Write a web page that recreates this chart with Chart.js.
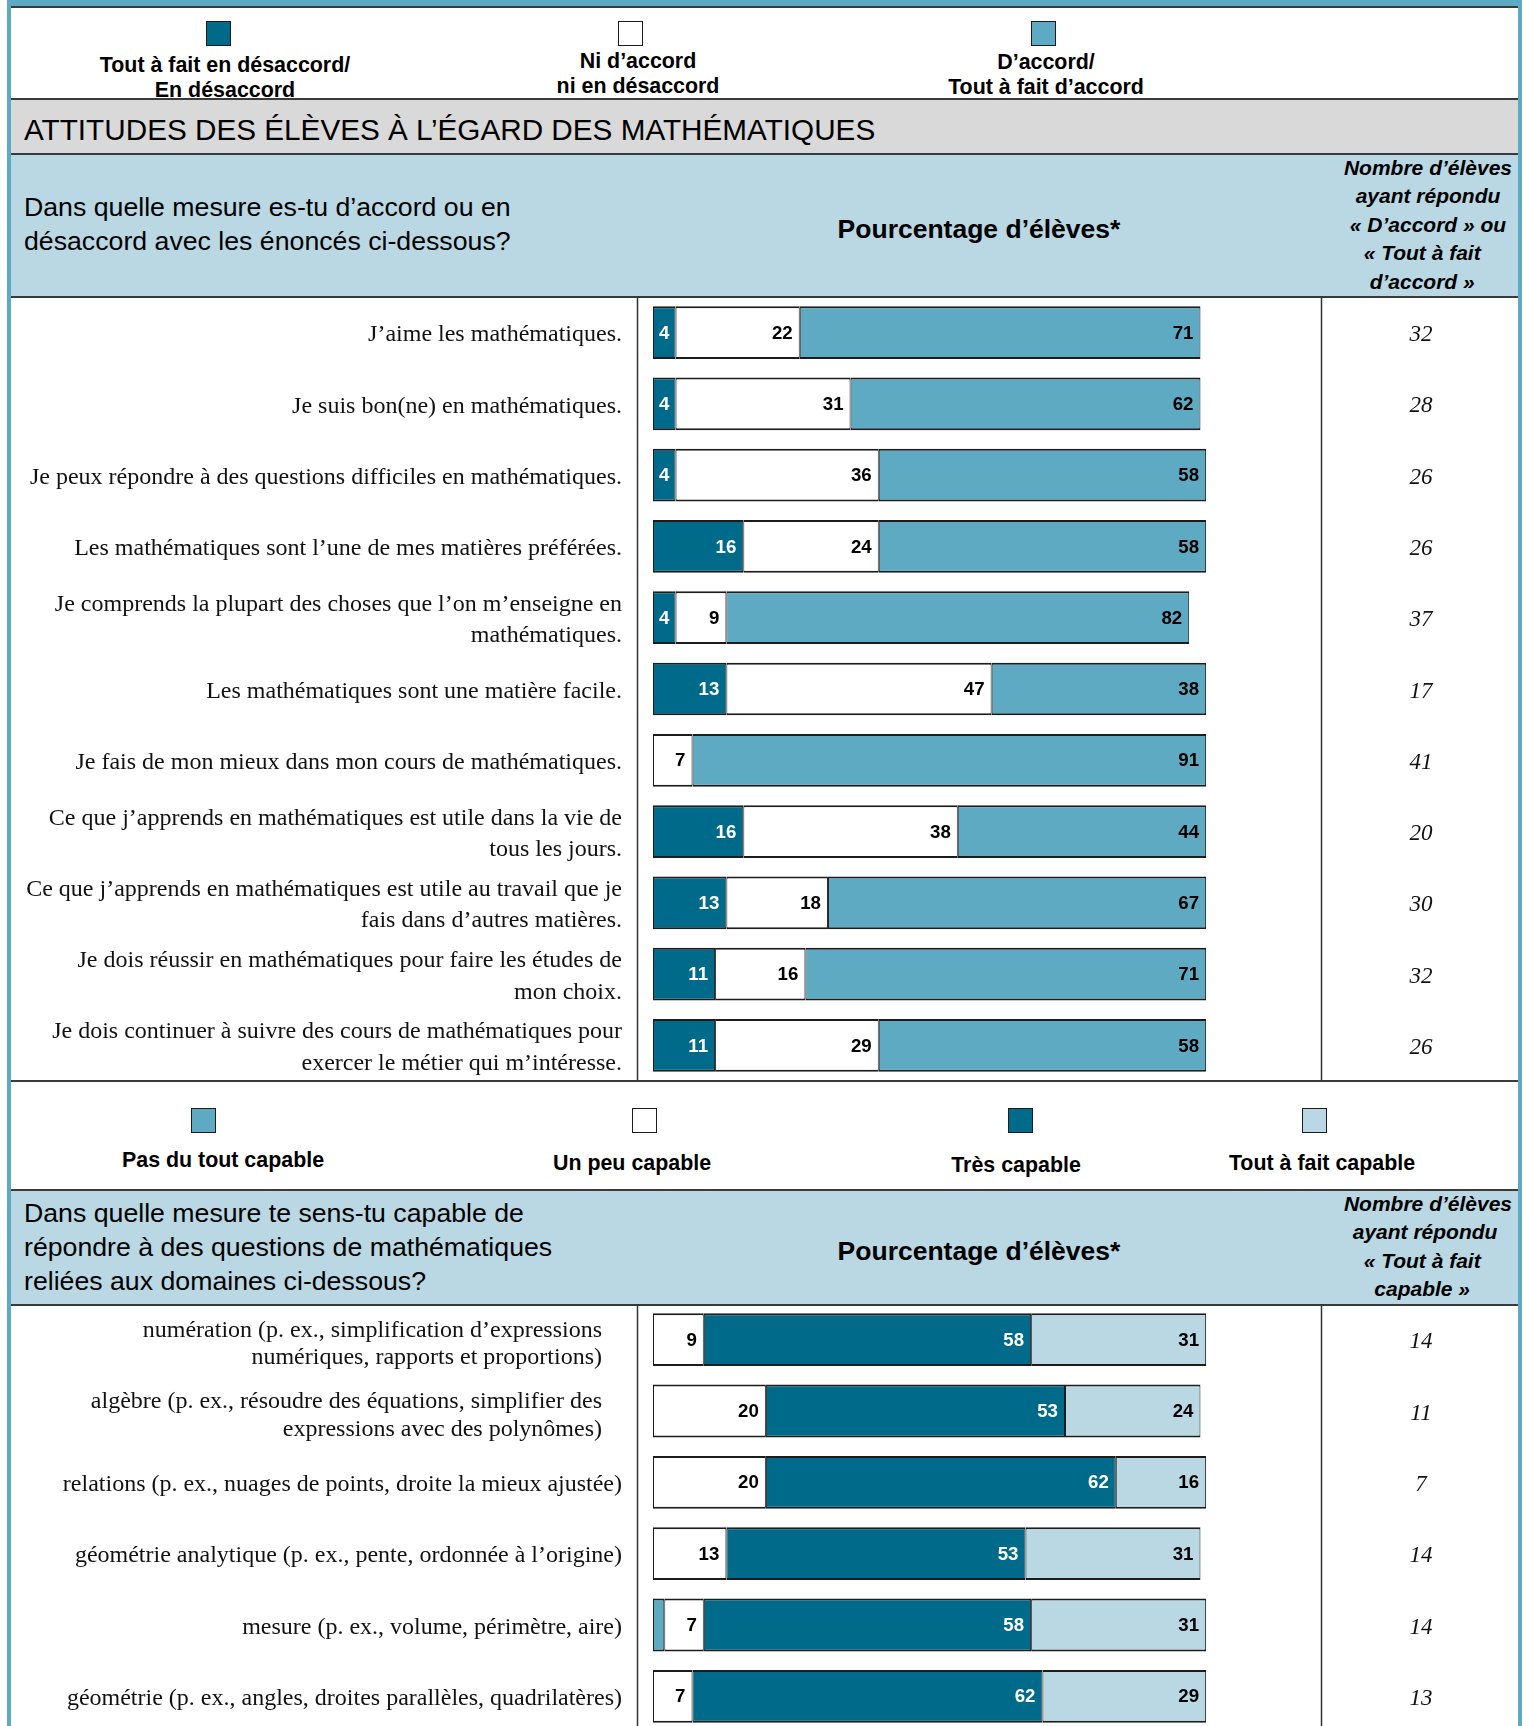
<!DOCTYPE html>
<html lang="fr">
<head>
<meta charset="utf-8">
<title>Attitudes des élèves à l’égard des mathématiques</title>
<script src="https://cdn.jsdelivr.net/npm/chart.js@4.4.1/dist/chart.umd.min.js"></script>
<style>
  html, body { margin: 0; padding: 0; background: #fff; }
  body {
    width: 1528px; height: 1726px; position: relative; overflow: hidden;
    font-family: "Liberation Sans", Arial, sans-serif; color: #000;
  }
  .abs { position: absolute; white-space: nowrap; }
  .rule { position: absolute; left: 11px; width: 1507px; height: 2px; background: #3a3a3a; }
  .band { position: absolute; left: 11px; width: 1507px; }
  .frame-side { position: absolute; top: 0; width: 4px; height: 1726px; background: #5eaac4; }
  .swatch { position: absolute; width: 23px; height: 23px; border: 1.5px solid #1c1c1c; }
  .legend-text { position: absolute; width: 400px; text-align: center; font-weight: bold; font-size: 21.4px; line-height: 25px; }
  .question { left: 24px; font-size: 26.7px; line-height: 34px; }
  .pct-head { width: 400px; text-align: center; font-weight: bold; font-size: 26.5px; line-height: 34px; }
  .count-head { width: 220px; text-align: center; font-weight: bold; font-style: italic; font-size: 21px; line-height: 28.4px; }
  canvas { position: absolute; left: 0; }
</style>
</head>
<body>
  <!-- page frame -->
  <div class="band" style="left:7px; width:1515px; top:0; height:6px; background:#5eaac4;"></div>
  <div class="rule" style="top:6px;"></div>
  <div class="frame-side" style="left:7px;"></div>
  <div class="frame-side" style="left:1518px;"></div>

  <!-- legend, section 1 -->
  <div id="legend-attitudes"></div>

  <!-- title band -->
  <div class="rule" style="top:98px;"></div>
  <div class="band" style="top:100px; height:54px; background:#d9d9d9;"></div>
  <div class="abs" style="left:24px; top:110px; font-size:29.7px; line-height:40px;">ATTITUDES DES ÉLÈVES À L’ÉGARD DES MATHÉMATIQUES</div>
  <div class="rule" style="top:153px;"></div>

  <!-- header, section 1 -->
  <div class="band" style="top:155px; height:141px; background:#b9d8e3;"></div>
  <div class="abs question" style="top:190px;">Dans quelle mesure es-tu d’accord ou en<br>désaccord avec les énoncés ci-dessous?</div>
  <div class="abs pct-head" style="left:779px; top:212px;">Pourcentage d’élèves*</div>
  <div class="abs count-head" style="left:1318px; top:154px;">Nombre d’élèves<br>ayant répondu<br>«&nbsp;D’accord&nbsp;» ou<br>«&nbsp;Tout à fait&nbsp;&nbsp;<br>d’accord&nbsp;»&nbsp;&nbsp;</div>
  <div class="rule" style="top:296px;"></div>

  <canvas id="attitudes" width="1528" height="784" style="top:297px;"></canvas>

  <div class="rule" style="top:1080px;"></div>

  <!-- legend, section 2 -->
  <div id="legend-capability"></div>

  <!-- header, section 2 -->
  <div class="rule" style="top:1189px;"></div>
  <div class="band" style="top:1191px; height:113px; background:#b9d8e3;"></div>
  <div class="abs question" style="top:1196px;">Dans quelle mesure te sens-tu capable de<br>répondre à des questions de mathématiques<br>reliées aux domaines ci-dessous?</div>
  <div class="abs pct-head" style="left:779px; top:1234px;">Pourcentage d’élèves*</div>
  <div class="abs count-head" style="left:1318px; top:1190px;">Nombre d’élèves<br>ayant répondu&nbsp;<br>«&nbsp;Tout à fait&nbsp;&nbsp;<br>capable&nbsp;»&nbsp;&nbsp;</div>
  <div class="rule" style="top:1304px;"></div>

  <canvas id="capability" width="1528" height="428" style="top:1304px;"></canvas>

<script>
// Colours
const DARK = '#006a8a';
const MEDIUM = '#5eaac3';
const LIGHT = '#b9d8e3';
const WHITE = '#ffffff';

// Section 1: attitudes towards mathematics
const attitudeItems = [
  'J’aime les mathématiques.',
  'Je suis bon(ne) en mathématiques.',
  'Je peux répondre à des questions difficiles en mathématiques.',
  'Les mathématiques sont l’une de mes matières préférées.',
  ['Je comprends la plupart des choses que l’on m’enseigne en', 'mathématiques.'],
  'Les mathématiques sont une matière facile.',
  'Je fais de mon mieux dans mon cours de mathématiques.',
  ['Ce que j’apprends en mathématiques est utile dans la vie de', 'tous les jours.'],
  ['Ce que j’apprends en mathématiques est utile au travail que je', 'fais dans d’autres matières.'],
  ['Je dois réussir en mathématiques pour faire les études de', 'mon choix.'],
  ['Je dois continuer à suivre des cours de mathématiques pour', 'exercer le métier qui m’intéresse.']
];
const attitudeSeries = ['Tout à fait en désaccord/\nEn désaccord', 'Ni d’accord\nni en désaccord', 'D’accord/\nTout à fait d’accord'];
const disagree = [4, 4, 4, 16, 4, 13, 0, 16, 13, 11, 11];
const neutral = [22, 31, 36, 24, 9, 47, 7, 38, 18, 16, 29];
const agree = [71, 62, 58, 58, 82, 38, 91, 44, 67, 71, 58];
const agreeCounts = [32, 28, 26, 26, 37, 17, 41, 20, 30, 32, 26];

// Section 2: confidence by domain
const domainItems = [
  ['numération (p. ex., simplification d’expressions', 'numériques, rapports et proportions)'],
  ['algèbre (p. ex., résoudre des équations, simplifier des', 'expressions avec des polynômes)'],
  'relations (p. ex., nuages de points, droite la mieux ajustée)',
  'géométrie analytique (p. ex., pente, ordonnée à l’origine)',
  'mesure (p. ex., volume, périmètre, aire)',
  'géométrie (p. ex., angles, droites parallèles, quadrilatères)'
];
const capabilitySeries = ['Pas du tout capable', 'Un peu capable', 'Très capable', 'Tout à fait capable'];
const notCapable = [0, 0, 0, 0, 2, 0];
const somewhatCapable = [9, 20, 20, 13, 7, 7];
const veryCapable = [58, 53, 62, 53, 58, 62];
const fullyCapable = [31, 24, 16, 31, 31, 29];
const fullyCapableCounts = [14, 11, 7, 14, 14, 13];

// HTML legend: swatch above a centred caption
function buildLegend(el, names, colors, swatchX, swatchTop, textX, textY) {
  names.forEach((name, i) => {
    const sw = document.createElement('div');
    sw.className = 'swatch';
    sw.style.left = (swatchX[i] - 13) + 'px';
    sw.style.top = swatchTop + 'px';
    sw.style.background = colors[i];
    el.appendChild(sw);
    const tx = document.createElement('div');
    tx.className = 'legend-text';
    tx.style.left = (textX[i] - 200) + 'px';
    tx.style.top = (textY[i] - 12.5) + 'px';
    tx.innerHTML = name.split('\n').join('<br>');
    el.appendChild(tx);
  });
}

buildLegend(document.getElementById('legend-attitudes'), attitudeSeries,
  [DARK, WHITE, MEDIUM], [219, 631, 1044], 21, [225, 638, 1046], [65, 61, 62]);
buildLegend(document.getElementById('legend-capability'), capabilitySeries,
  [MEDIUM, WHITE, DARK, LIGHT], [204, 645, 1021, 1315], 1108, [223, 632, 1016, 1322], [1160, 1163, 1165, 1163]);

// Row labels, counts, separators and value labels drawn around the bars
const rowText = {
  id: 'rowText',
  afterDatasetsDraw(chart, args, opts) {
    const ctx = chart.ctx;
    const yScale = chart.scales.y;
    ctx.save();

    ctx.strokeStyle = '#333';
    ctx.lineWidth = 1.5;
    opts.separators.forEach(x => {
      ctx.beginPath();
      ctx.moveTo(x, 0);
      ctx.lineTo(x, chart.height);
      ctx.stroke();
    });

    ctx.fillStyle = '#111';
    ctx.textBaseline = 'middle';
    ctx.textAlign = 'right';
    ctx.font = '24px "Liberation Serif"';
    chart.data.labels.forEach((label, i) => {
      const lines = Array.isArray(label) ? label : [label];
      const yc = yScale.getPixelForValue(i) + 2.5 + (lines.length > 1 ? opts.wrapShift : 0);
      const right = lines.length > 1 ? opts.wrapRight : opts.labelRight;
      lines.forEach((line, k) => {
        ctx.fillText(line, right, yc + (k - (lines.length - 1) / 2) * opts.lineHeight);
      });
    });

    ctx.textAlign = 'center';
    ctx.font = 'italic 23px "Liberation Serif"';
    opts.counts.forEach((n, i) => ctx.fillText(String(n), opts.countX, yScale.getPixelForValue(i) + 2.5));

    ctx.font = 'bold 18.7px "Liberation Sans"';
    chart.data.datasets.forEach((ds, di) => {
      chart.getDatasetMeta(di).data.forEach((bar, i) => {
        const v = ds.data[i];
        if (!v) return;
        const { x, y, base } = bar.getProps(['x', 'y', 'base'], true);
        const w = x - base;
        const tw = ctx.measureText(String(v)).width;
        if (tw > w - 4) return;
        ctx.fillStyle = ds.labelColor;
        if (w < tw + 16) {
          ctx.textAlign = 'center';
          ctx.fillText(String(v), (x + base) / 2, y + 1);
        } else {
          ctx.textAlign = 'right';
          ctx.fillText(String(v), x - 7, y + 1);
        }
      });
    });
    ctx.restore();
  }
};

function series(label, data, color, labelColor) {
  return {
    label, data,
    backgroundColor: color,
    borderColor: '#1c1c1c',
    borderWidth: { top: 2, bottom: 2, left: 1, right: 1 },
    borderSkipped: false,
    barPercentage: 0.74,
    categoryPercentage: 1,
    labelColor
  };
}

function stackedBars(canvasId, labels, datasets, textOpts) {
  return new Chart(document.getElementById(canvasId), {
    type: 'bar',
    data: { labels, datasets },
    options: {
      indexAxis: 'y',
      responsive: false,
      animation: false,
      layout: { padding: { left: 653, right: 1528 - 1217.4, top: 0, bottom: 0 } },
      scales: {
        x: { stacked: true, min: 0, max: 100, display: false },
        y: { stacked: true, display: false }
      },
      plugins: {
        legend: { display: false },
        tooltip: { enabled: false },
        rowText: textOpts
      }
    },
    plugins: [rowText]
  });
}

stackedBars('attitudes', attitudeItems, [
  series(attitudeSeries[0], disagree, DARK, '#fff'),
  series(attitudeSeries[1], neutral, WHITE, '#000'),
  series(attitudeSeries[2], agree, MEDIUM, '#000')
], { labelRight: 622, wrapRight: 622, wrapShift: 0, lineHeight: 31.4, counts: agreeCounts, countX: 1421, separators: [637.5, 1321.5] });

stackedBars('capability', domainItems, [
  series(capabilitySeries[0], notCapable, MEDIUM, '#000'),
  series(capabilitySeries[1], somewhatCapable, WHITE, '#000'),
  series(capabilitySeries[2], veryCapable, DARK, '#fff'),
  series(capabilitySeries[3], fullyCapable, LIGHT, '#000')
], { labelRight: 622, wrapRight: 602, wrapShift: 2, lineHeight: 27.5, counts: fullyCapableCounts, countX: 1421, separators: [637.5, 1321.5] });
</script>
</body>
</html>
